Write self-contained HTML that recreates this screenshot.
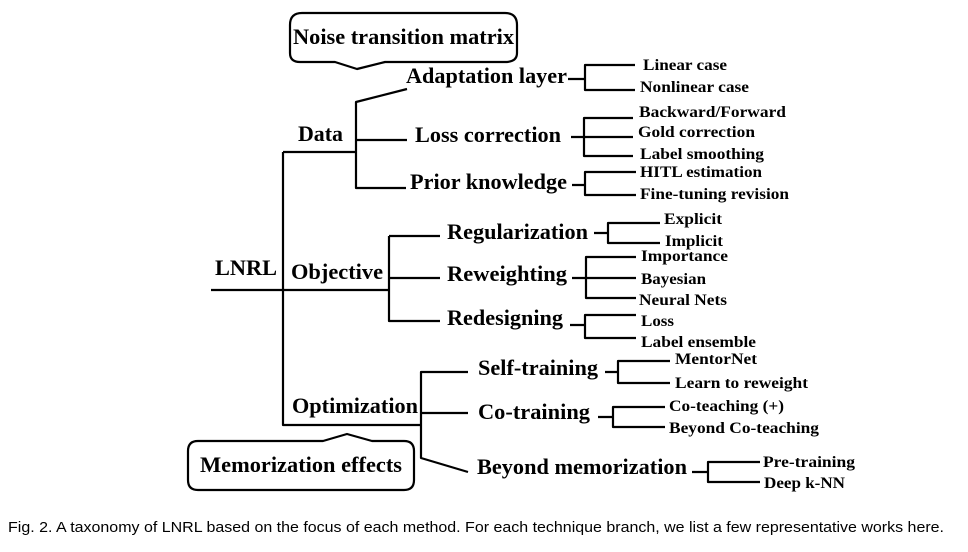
<!DOCTYPE html>
<html><head><style>body{margin:0;background:#fff}svg{display:block}</style></head><body>
<svg width="968" height="552" xmlns="http://www.w3.org/2000/svg">
<g fill="none" stroke="#000" stroke-width="2.2" stroke-linejoin="round">
<path d="M302,13 H505 Q517,13 517,25 V53 Q517,62 505,62 H385 L357,69 L335,62 H300 Q290,62 290,53 V25 Q290,13 302,13 Z"/>
<path d="M198,441 H323 L347,434 L372,441 H404 Q414,441 414,451 V480 Q414,490 404,490 H198 Q188,490 188,480 V451 Q188,441 198,441 Z"/>
<path d="M211,290 H389"/>
<path d="M283,152 V425 H421"/>
<path d="M283,152 H356"/>
<path d="M407,89 L356,102 V188 H406"/>
<path d="M356,140 H407"/>
<path d="M389,236 V321 H440 M389,236 H440 M389,278 H440"/>
<path d="M468,372 H421 V458 L468,472 M421,413 H468"/>
<path d="M568,79 H585 M635,65 H585 V90 H635"/>
<path d="M571,137 H633 M633,118 H584 V156 H633"/>
<path d="M572,185 H585 M636,172 H585 V195 H636"/>
<path d="M594,233 H608 M660,223 H608 V243 H660"/>
<path d="M572,278 H636 M636,257 H586 V298 H636"/>
<path d="M570,325 H585 M636,315 H585 V338 H636"/>
<path d="M605,372 H618 M670,361 H618 V383 H670"/>
<path d="M598,417 H613 M665,407 H613 V427 H665"/>
<path d="M692,472 H708 M760,462 H708 V482 H760"/>
</g>
<g font-family="Liberation Serif, serif" font-weight="bold" fill="#000" lengthAdjust="spacingAndGlyphs">
<g font-size="22">
<text x="293" y="44" textLength="221" lengthAdjust="spacingAndGlyphs">Noise transition matrix</text>
<text x="200" y="472" textLength="202" lengthAdjust="spacingAndGlyphs">Memorization effects</text>
<text x="298" y="141" textLength="45" lengthAdjust="spacingAndGlyphs">Data</text>
<text x="215" y="275" textLength="62" lengthAdjust="spacingAndGlyphs">LNRL</text>
<text x="291" y="279" textLength="92" lengthAdjust="spacingAndGlyphs">Objective</text>
<text x="292" y="413" textLength="126" lengthAdjust="spacingAndGlyphs">Optimization</text>
<text x="406" y="83" textLength="161" lengthAdjust="spacingAndGlyphs">Adaptation layer</text>
<text x="415" y="142" textLength="146" lengthAdjust="spacingAndGlyphs">Loss correction</text>
<text x="410" y="189" textLength="157" lengthAdjust="spacingAndGlyphs">Prior knowledge</text>
<text x="447" y="239" textLength="141" lengthAdjust="spacingAndGlyphs">Regularization</text>
<text x="447" y="281" textLength="120" lengthAdjust="spacingAndGlyphs">Reweighting</text>
<text x="447" y="325" textLength="116" lengthAdjust="spacingAndGlyphs">Redesigning</text>
<text x="478" y="375" textLength="120" lengthAdjust="spacingAndGlyphs">Self-training</text>
<text x="478" y="419" textLength="112" lengthAdjust="spacingAndGlyphs">Co-training</text>
<text x="477" y="474" textLength="210" lengthAdjust="spacingAndGlyphs">Beyond memorization</text>
</g>
<g font-size="16">
<text x="643" y="70" textLength="84" lengthAdjust="spacingAndGlyphs">Linear case</text>
<text x="640" y="92" textLength="109" lengthAdjust="spacingAndGlyphs">Nonlinear case</text>
<text x="639" y="117" textLength="147" lengthAdjust="spacingAndGlyphs">Backward/Forward</text>
<text x="638" y="137" textLength="117" lengthAdjust="spacingAndGlyphs">Gold correction</text>
<text x="640" y="159" textLength="124" lengthAdjust="spacingAndGlyphs">Label smoothing</text>
<text x="640" y="177" textLength="122" lengthAdjust="spacingAndGlyphs">HITL estimation</text>
<text x="640" y="199" textLength="149" lengthAdjust="spacingAndGlyphs">Fine-tuning revision</text>
<text x="664" y="224" textLength="58" lengthAdjust="spacingAndGlyphs">Explicit</text>
<text x="665" y="246" textLength="58" lengthAdjust="spacingAndGlyphs">Implicit</text>
<text x="641" y="261" textLength="87" lengthAdjust="spacingAndGlyphs">Importance</text>
<text x="641" y="284" textLength="65" lengthAdjust="spacingAndGlyphs">Bayesian</text>
<text x="639" y="305" textLength="88" lengthAdjust="spacingAndGlyphs">Neural Nets</text>
<text x="641" y="326" textLength="33" lengthAdjust="spacingAndGlyphs">Loss</text>
<text x="641" y="347" textLength="115" lengthAdjust="spacingAndGlyphs">Label ensemble</text>
<text x="675" y="364" textLength="82" lengthAdjust="spacingAndGlyphs">MentorNet</text>
<text x="675" y="388" textLength="133" lengthAdjust="spacingAndGlyphs">Learn to reweight</text>
<text x="669" y="411" textLength="115" lengthAdjust="spacingAndGlyphs">Co-teaching (+)</text>
<text x="669" y="433" textLength="150" lengthAdjust="spacingAndGlyphs">Beyond Co-teaching</text>
<text x="763" y="467" textLength="92" lengthAdjust="spacingAndGlyphs">Pre-training</text>
<text x="764" y="488" textLength="81" lengthAdjust="spacingAndGlyphs">Deep k-NN</text>
</g>
</g>
<text x="8" y="532" font-family="Liberation Sans, sans-serif" font-size="15" fill="#000" textLength="936" lengthAdjust="spacingAndGlyphs">Fig. 2. A taxonomy of LNRL based on the focus of each method. For each technique branch, we list a few representative works here.</text>
</svg>
</body></html>
